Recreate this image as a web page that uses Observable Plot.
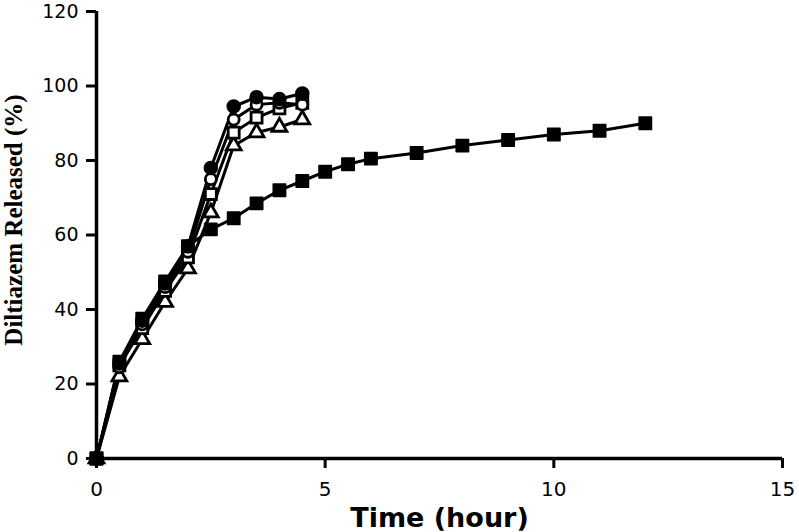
<!DOCTYPE html>
<html>
<head>
<meta charset="utf-8">
<script src="https://cdn.jsdelivr.net/npm/d3@7"></script>
<script src="https://cdn.jsdelivr.net/npm/@observablehq/plot@0.6"></script>
<style>
  html, body { margin: 0; padding: 0; background: white; }
</style>
</head>
<body>
<div id="chart"></div>
<script>
// Time points (hours)
const timesShort = [0, 0.5, 1, 1.5, 2, 2.5, 3, 3.5, 4, 4.5];
const timesLong = [0, 0.5, 1, 1.5, 2, 2.5, 3, 3.5, 4, 4.5, 5, 5.5, 6, 7, 8, 9, 10, 11, 12];

// Diltiazem released (%) per formulation
const filledSquares = [0, 26, 37.5, 47.5, 57, 61.5, 64.5, 68.5, 72, 74.5, 77, 79, 80.5, 82, 84, 85.5, 87, 88, 90];
const filledCircles = [0, 25.5, 37, 47, 57, 78, 94.5, 97, 96.5, 98];
const openCircles   = [0, 24.5, 36, 46, 55.5, 75, 91, 95, 95.5, 95];
const openSquares   = [0, 25, 35, 45, 54, 71, 87.5, 91.5, 94, 95.5];
const openTriangles = [0, 22, 32, 42, 51, 66, 84, 87.5, 89, 91];

const xTicks = [0, 5, 10, 15];
const yTicks = [0, 20, 40, 60, 80, 100, 120];

const toRows = (times, vals) => vals.map((v, i) => ({t: times[i], v}));
const sq = toRows(timesLong, filledSquares);
const fc = toRows(timesShort, filledCircles);
const oc = toRows(timesShort, openCircles);
const os = toRows(timesShort, openSquares);
const ot = toRows(timesShort, openTriangles);

const lineOpts = {x: "t", y: "v", stroke: "black", strokeWidth: 3};

const chart = Plot.plot({
  width: 799,
  height: 532,
  marginLeft: 96,
  marginRight: 17,
  marginTop: 11,
  marginBottom: 74,
  style: {fontFamily: "DejaVu Sans", fontSize: "19px", background: "white", color: "black", overflow: "visible"},
  x: {domain: [0, 15]},
  y: {domain: [0, 120]},
  marks: [
    Plot.axisX({ticks: xTicks, tickSize: 10, tickPadding: 13, strokeWidth: 3, fontSize: 20, label: null}),
    Plot.axisY({ticks: yTicks, tickSize: 10, tickPadding: 8, strokeWidth: 3, fontSize: 19, label: null}),
    Plot.line(ot, lineOpts),
    Plot.line(os, lineOpts),
    Plot.line(oc, lineOpts),
    Plot.line(fc, lineOpts),
    Plot.line(sq, lineOpts),
    Plot.dot(ot, {x: "t", y: "v", symbol: "triangle", r: 5.5, fill: "white", stroke: "black", strokeWidth: 2.8}),
    Plot.dot(os, {x: "t", y: "v", symbol: "square", r: 6.2, fill: "white", stroke: "black", strokeWidth: 2.8}),
    Plot.dot(oc, {x: "t", y: "v", symbol: "circle", r: 5.5, fill: "white", stroke: "black", strokeWidth: 2.8}),
    Plot.dot(fc, {x: "t", y: "v", symbol: "circle", r: 6.5, fill: "black", stroke: "black"}),
    Plot.dot(sq, {x: "t", y: "v", symbol: "square", r: 7, fill: "black", stroke: "black", strokeWidth: 1.5, strokeLinejoin: "round"}),
    Plot.ruleX([0], {strokeWidth: 3.5}),
    Plot.ruleY([0], {strokeWidth: 3.5}),
    Plot.text(["Time (hour)"], {frameAnchor: "bottom", dy: 60, lineAnchor: "middle", textAnchor: "middle", fontFamily: "DejaVu Sans", fontWeight: "bold", fontSize: 27}),
    Plot.text(["Diltiazem Released (%)"], {frameAnchor: "left", rotate: -90, dx: -83, dy: -15, lineAnchor: "middle", textAnchor: "middle", fontFamily: "Liberation Serif", fontWeight: "bold", fontSize: 25})
  ]
});
document.getElementById("chart").append(chart);
</script>
</body>
</html>
